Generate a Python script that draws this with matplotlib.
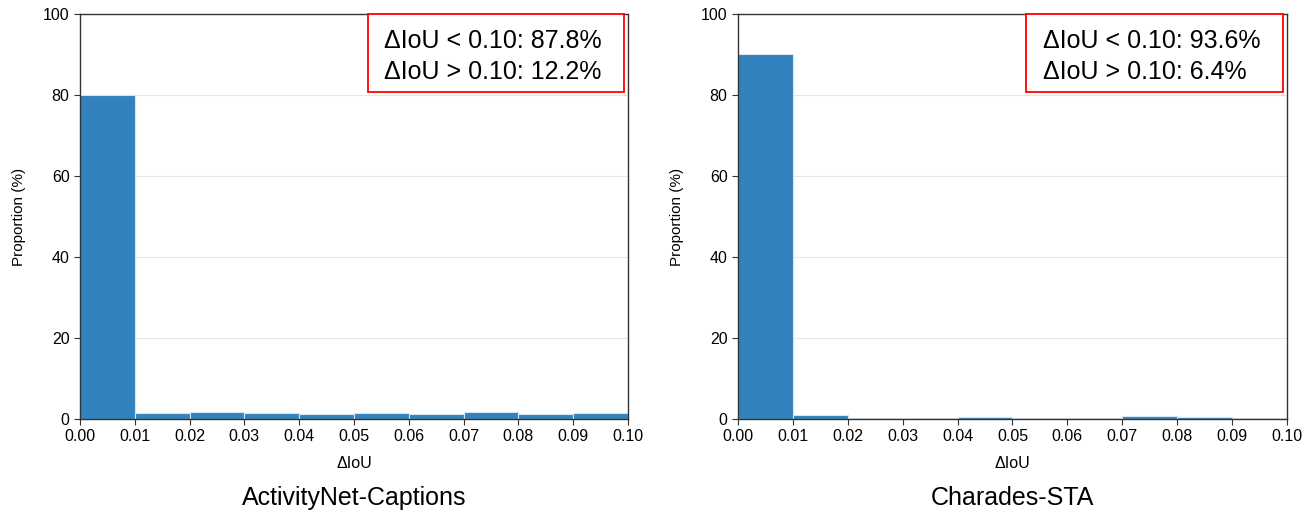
import numpy as np
import matplotlib.pyplot as plt
from matplotlib.patches import Rectangle

plt.rcParams['font.family'] = ['Liberation Sans', 'DejaVu Sans']

# histogram bins (left edges) and proportions
bin_edges = [0.00, 0.01, 0.02, 0.03, 0.04, 0.05, 0.06, 0.07, 0.08, 0.09, 0.10]
anet_vals = [80.0, 1.5, 1.65, 1.5, 1.35, 1.45, 1.35, 1.7, 1.35, 1.55]
charades_vals = [90.0, 0.9, 0.3, 0.3, 0.5, 0.3, 0.3, 0.8, 0.6, 0.3]

titles = ['ActivityNet-Captions', 'Charades-STA']
stats = [('87.8%', '12.2%'), ('93.6%', '6.4%')]
xticks = [0.00, 0.01, 0.02, 0.03, 0.04, 0.05, 0.06, 0.07, 0.08, 0.09, 0.10]
yticks = [0, 20, 40, 60, 80, 100]


def draw_panel(ax, vals, title, st):
    lefts = bin_edges[:-1]
    ax.bar(lefts, vals, width=0.01, align='edge', color='#3182bd',
           edgecolor='#d6e6f2', linewidth=0.8, zorder=2)
    ax.set_xlim(0, 0.10)
    ax.set_ylim(0, 100)
    ax.set_xticks(xticks)
    ax.set_xticklabels([f'{t:.2f}' for t in xticks])
    ax.set_yticks(yticks)
    ax.yaxis.grid(True, color='#e6e6e6', linewidth=0.8, zorder=0)
    ax.set_axisbelow(True)
    for s in ax.spines.values():
        s.set_color('#333333')
        s.set_linewidth(1.0)
    ax.tick_params(labelsize=11.5, length=4, color='#333333')
    ax.set_xlabel('ΔIoU', fontsize=11.5, labelpad=8)
    ax.set_ylabel('Proportion (%)', fontsize=11, labelpad=12)
    ax.text(0.5, -0.195, title, transform=ax.transAxes, ha='center',
            va='center', fontsize=18)
    # red summary box in the upper right corner
    ax.add_patch(Rectangle((0.525, 0.807), 0.467, 0.193, transform=ax.transAxes,
                           facecolor='white', edgecolor='red', linewidth=1.3,
                           zorder=5, clip_on=False))
    txt = f'ΔIoU < 0.10: {st[0]}\nΔIoU > 0.10: {st[1]}'
    ax.text(0.555, 0.895, txt, transform=ax.transAxes, ha='left', va='center',
            fontsize=18, linespacing=1.4, zorder=6)


fig = plt.figure(figsize=(13.15, 5.12), dpi=100)
ax1 = fig.add_axes([0.0608, 0.1816, 0.4168, 0.7911])
ax2 = fig.add_axes([0.5612, 0.1816, 0.4175, 0.7911])

draw_panel(ax1, anet_vals, titles[0], stats[0])
draw_panel(ax2, charades_vals, titles[1], stats[1])

fig.savefig('out.png', dpi=100)
